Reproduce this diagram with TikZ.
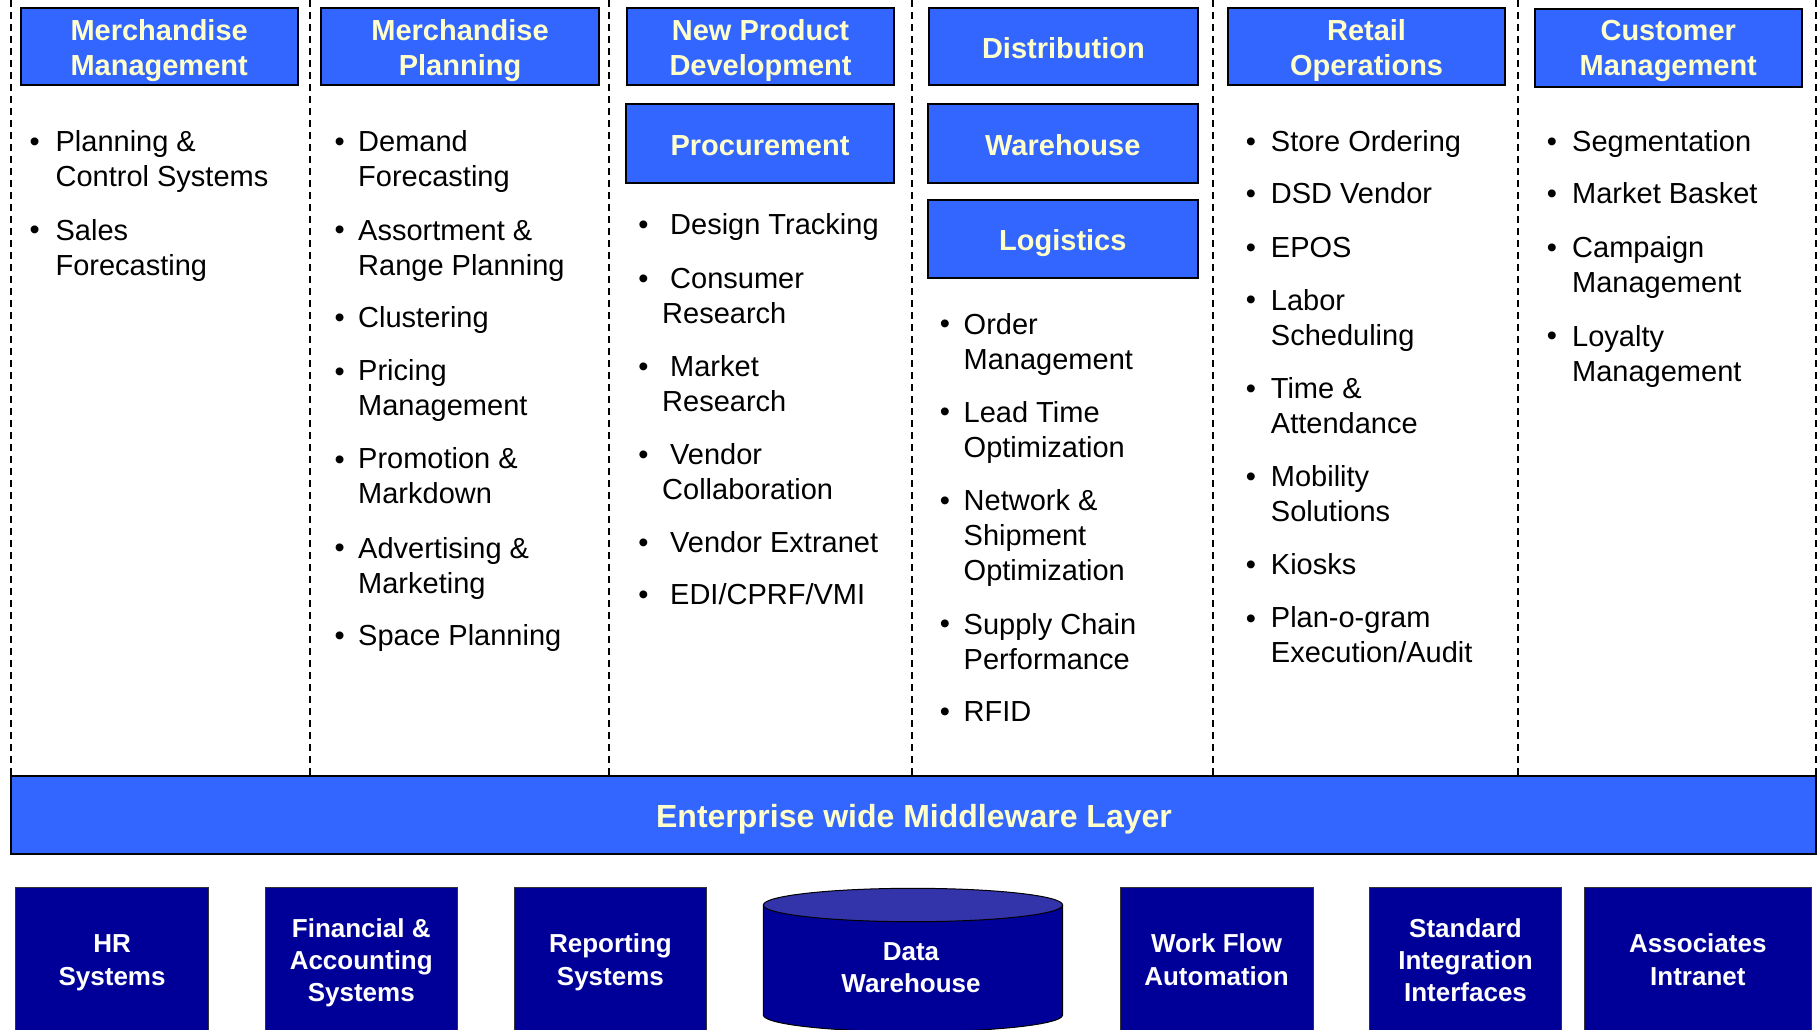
\documentclass[tikz,border=0pt]{standalone}
\usepackage{fontspec}
\setmainfont{Liberation Sans}
\definecolor{hblue}{HTML}{3366FF}
\definecolor{hyel}{HTML}{FFFFCC}
\definecolor{navy}{HTML}{000099}
\definecolor{cyltop}{HTML}{3333AA}
\begin{document}
\begin{tikzpicture}[x=1pt,y=-1pt,
  hbox/.style={draw=black,line width=2pt,fill=hblue,inner sep=0pt},
  htxt/.style={anchor=base,align=center,inner sep=0pt,text=hyel,font=\fontsize{29}{35}\selectfont\bfseries},
  bbox/.style={draw=black!80,line width=1pt,fill=navy,inner sep=0pt,minimum height=152.7pt},
  btxt/.style={anchor=base,align=center,inner sep=0pt,text=white,font=\fontsize{26}{32.3}\selectfont\bfseries},
  itm/.style={anchor=base west,align=left,inner sep=0pt,font=\fontsize{29}{35}\selectfont},
  bul/.style={anchor=base,inner sep=0pt,font=\fontsize{29}{35}\selectfont},
  sep/.style={line width=2pt,dash pattern=on 7pt off 5pt}
]
\useasboundingbox (0,0) rectangle (1818,1029);
\clip (0,0) rectangle (1818,1029);
\fill[white] (0,0) rectangle (1818,1029);

% column separators
\foreach \x in {11,310,609,912,1213,1518,1816}
  \draw[sep] (\x,0) -- (\x,775);

% header boxes
\node[hbox,minimum width=276.7pt,minimum height=76.7pt] (mm)   at (159.15,46.65) {};
\node[hbox,minimum width=277.5pt,minimum height=76.7pt] (mp)   at (460.05,46.65) {};
\node[hbox,minimum width=267.7pt,minimum height=76.7pt] (npd)  at (760.55,46.65) {};
\node[hbox,minimum width=268pt,minimum height=78.7pt]   (proc) at (760,143.35) {};
\node[hbox,minimum width=269.2pt,minimum height=76.7pt] (dist) at (1063.4,46.65) {};
\node[hbox,minimum width=270.4pt,minimum height=79pt]   (wh)   at (1062.8,143.5) {};
\node[hbox,minimum width=270.4pt,minimum height=78pt]   (logi) at (1062.8,239) {};
\node[hbox,minimum width=277.5pt,minimum height=76.7pt] (ro)   at (1366.55,46.65) {};
\node[hbox,minimum width=267.5pt,minimum height=77.4pt] (cm)   at (1668.25,48) {};

% (multi-line nodes: base = last line)
\node[htxt] (mmT)   at (159.15,75)  {Merchandise\\Management};
\node[htxt] (mpT)   at (460.05,75)  {Merchandise\\Planning};
\node[htxt] (npdT)  at (760.55,75)  {New Product\\Development};
\node[htxt] (procT) at (760,155)    {Procurement};
\node[htxt] (distT) at (1063.4,58.3) {Distribution};
\node[htxt] (whT)   at (1062.8,155) {Warehouse};
\node[htxt] (logiT) at (1062.8,250) {Logistics};
\node[htxt] (roT)   at (1366.55,75) {Retail\\Operations};
\node[htxt] (cmT)   at (1668.25,75.7) {Customer\\Management};

% column 1
\foreach \n/\y/\z/\t in {1/151/186.2/{Planning \&\\Control Systems},2/239.6/275.5/{Sales\\Forecasting}}{
  \node[bul] (ba\n) at (34.8,\y) {•};
  \node[itm] (ta\n) at (55.4,\z) {\t};
}
% column 2
\foreach \n/\y/\z/\t in {1/151/186.2/{Demand\\Forecasting},2/239.6/275.5/{Assortment \&\\Range Planning},3/327.7/327.7/{Clustering},4/381/415.8/{Pricing\\Management},5/469.1/503.9/{Promotion \&\\Markdown},6/557.2/593.2/{Advertising \&\\Marketing},7/645.3/645.3/{Space Planning}}{
  \node[bul] (bb\n) at (339.7,\y) {•};
  \node[itm] (tb\n) at (358,\z) {\t};
}
% column 3
\foreach \n/\y/\z/\t in {1/234.9/234.9/{\kern8pt Design Tracking},2/288.3/323/{\kern8pt Consumer\\Research},3/376.4/411.2/{\kern8pt Market\\Research},4/464.5/499.3/{\kern8pt Vendor\\Collaboration},5/552.6/552.6/{\kern8pt Vendor Extranet},6/604.8/604.8/{\kern8pt EDI/CPRF/VMI}}{
  \node[bul] (bc\n) at (643.5,\y) {•};
  \node[itm] (tc\n) at (662,\z) {\t};
}
% column 4
\foreach \n/\y/\z/\t in {1/333.5/369.4/{Order\\Management},2/421.6/457.5/{Lead Time\\Optimization},3/510.9/580.4/{Network \&\\Shipment\\Optimization},4/633.8/669.7/{Supply Chain\\Performance},5/721.9/721.9/{RFID}}{
  \node[bul] (bd\n) at (945,\y) {•};
  \node[itm] (td\n) at (963.5,\z) {\t};
}
% column 5
\foreach \n/\y/\z/\t in {1/151/151/{Store Ordering},2/203.6/203.6/{DSD Vendor},3/257/257/{EPOS},4/309.1/345.1/{Labor\\Scheduling},5/398.4/433.2/{Time \&\\Attendance},6/486.5/521.3/{Mobility\\Solutions},7/574.6/574.6/{Kiosks},8/628/662.7/{Plan-o-gram\\Execution/Audit}}{
  \node[bul] (be\n) at (1251,\y) {•};
  \node[itm] (te\n) at (1270.7,\z) {\t};
}
% column 6
\foreach \n/\y/\z/\t in {1/151/151/{Segmentation},2/203.6/203.6/{Market Basket},3/257/292.9/{Campaign\\Management},4/345.1/381/{Loyalty\\Management}}{
  \node[bul] (bf\n) at (1552,\y) {•};
  \node[itm] (tf\n) at (1572,\z) {\t};
}

% middleware
\node[hbox,minimum width=1805pt,minimum height=78pt] (mw) at (913.5,815) {};
\node[htxt,font=\fontsize{32}{38}\selectfont\bfseries] (mwT) at (914,827) {Enterprise wide Middleware Layer};

% bottom boxes
\node[bbox,minimum width=192.6pt] (hr)  at (112.1,963.65) {};
\node[bbox,minimum width=192.5pt] (fin) at (361.25,963.65) {};
\node[bbox,minimum width=192.8pt] (rep) at (610.4,963.65) {};
\node[bbox,minimum width=193pt]   (wf)  at (1216.5,963.65) {};
\node[bbox,minimum width=192pt]   (sii) at (1465.5,963.65) {};
\node[bbox,minimum width=227.7pt] (ai)  at (1697.85,963.65) {};

% data warehouse cylinder
\fill[navy] (763.3,905) rectangle (1062.6,1015);
\fill[navy] (913,1015) ellipse [x radius=149.65pt, y radius=16.7pt];
\draw[line width=1pt] (763.3,905) -- (763.3,1015) arc[start angle=180,end angle=360,x radius=149.65pt,y radius=16.7pt] -- (1062.6,905);
\draw[line width=1pt,fill=cyltop] (913,905) ellipse [x radius=149.65pt, y radius=16.7pt];

\node[btxt] (hrT)  at (112.1,985)     {HR\\Systems};
\node[btxt] (finT) at (361.25,1001.7) {Financial \&\\Accounting\\Systems};
\node[btxt] (repT) at (610.4,985)     {Reporting\\Systems};
\node[btxt] (dwT)  at (911,992.7)     {Data\\Warehouse};
\node[btxt] (wfT)  at (1216.5,985)    {Work Flow\\Automation};
\node[btxt] (siiT) at (1465.5,1001.7) {Standard\\Integration\\Interfaces};
\node[btxt] (aiT)  at (1697.85,985)   {Associates\\Intranet};
\end{tikzpicture}
\end{document}
